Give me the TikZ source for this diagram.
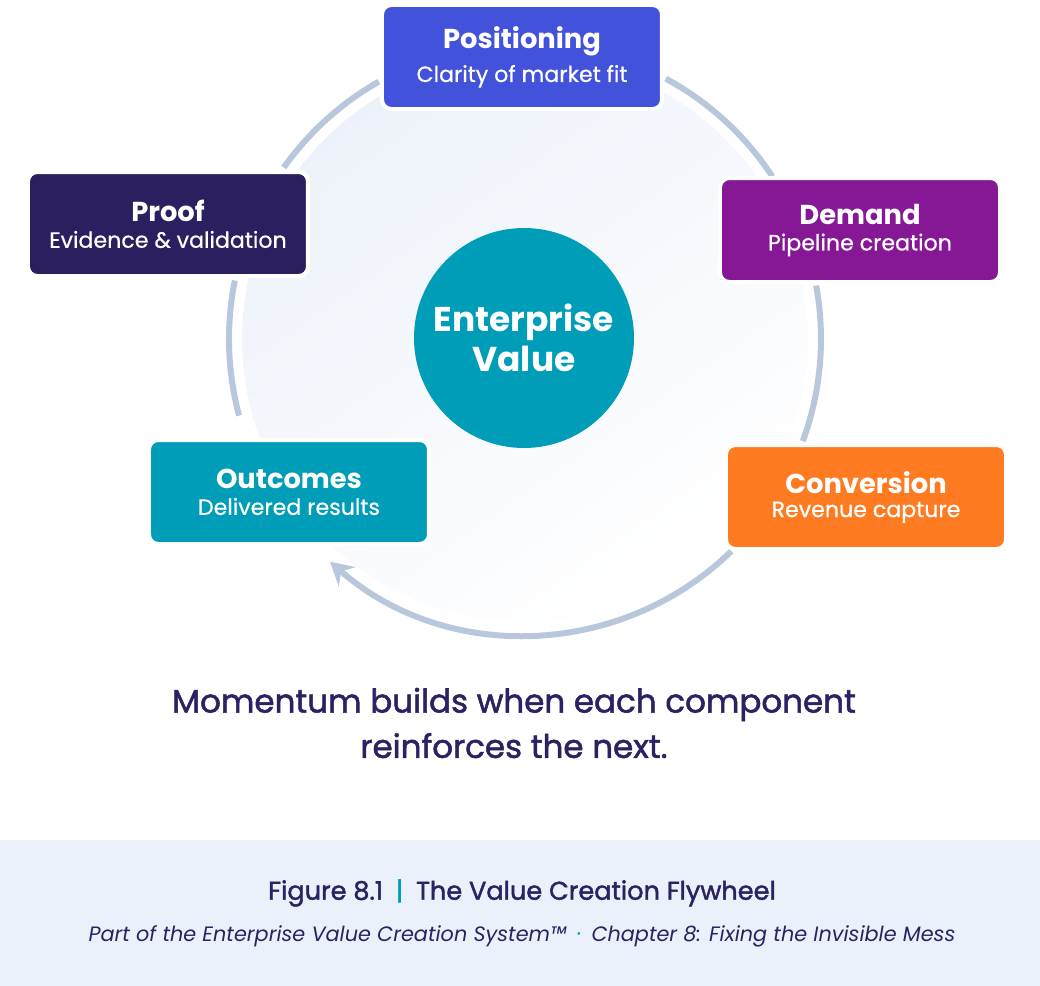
\documentclass[tikz,border=0pt]{standalone}
\usepackage{fontspec}
\setmainfont{Poppins}
\newfontfamily\mediumfont[FakeBold=0.6]{Poppins}
\newfontfamily\semifont[FakeBold=1.6]{Poppins}
\usetikzlibrary{arrows.meta,positioning}

\definecolor{posblue}{HTML}{4252DB}
\definecolor{proofnavy}{HTML}{2B1F5F}
\definecolor{demandpurple}{HTML}{861896}
\definecolor{convorange}{HTML}{FF7B22}
\definecolor{outteal}{HTML}{009DB9}
\definecolor{ringgrey}{HTML}{B9C7DD}
\definecolor{textnavy}{HTML}{2A2262}
\definecolor{footbg}{HTML}{EBF1FA}
\definecolor{diskblue}{HTML}{EDF2FA}

\newcommand{\stagetext}[2]{{\fontsize{20.5}{24}\selectfont\bfseries #1}\\[6pt]{\fontsize{16.6}{19}\selectfont\mediumfont #2}}

\tikzset{
  stagebox/.style={rectangle, rounded corners=7pt, draw=white, line width=3pt,
    minimum width=210pt, minimum height=78pt, inner sep=0pt, text=white, align=center},
  ring/.style={draw=ringgrey, line width=4.5pt},
}

\begin{document}
\begin{tikzpicture}[x=0.75pt,y=0.75pt]
  \useasboundingbox (-525,339) rectangle (515,-647);

  % soft disc behind the wheel
  \shade[top color=diskblue, bottom color=white, shading angle=35] (0,0) circle[radius=283];

  % the wheel, in pieces between the stages
  \draw[ring] (144.6:296) arc[start angle=144.6, end angle=119.6, radius=296];
  \draw[ring] (61.6:296) arc[start angle=61.6, end angle=33.3, radius=296];
  \draw[ring] (10.4:296) arc[start angle=10.4, end angle=-20.2, radius=296];
  \draw[ring] (168.6:296) arc[start angle=168.6, end angle=195, radius=296];
  \draw[ring,-{Stealth[length=17pt,width=19pt,inset=6pt]}] (-45.8:296) arc[start angle=-45.8, end angle=-131.2, radius=296];

  % stages
  \node[stagebox, fill=posblue] (positioning) at (-3,282) {\stagetext{Positioning}{Clarity of market fit}};
  \node[stagebox, fill=demandpurple] (demand) at (335,109) {\stagetext{Demand}{Pipeline creation}};
  \node[stagebox, fill=convorange] (conversion) at (341,-158) {\stagetext{Conversion}{Revenue capture}};
  \node[stagebox, fill=outteal] (outcomes) at (-236,-153) {\stagetext{Outcomes}{Delivered results}};
  \node[stagebox, fill=proofnavy] (proof) at (-357,115) {\stagetext{Proof}{Evidence \& validation}};

  % hub
  \node[circle, fill=outteal, minimum size=165pt, inner sep=0pt, text=white, align=center,
    font=\fontsize{25.8}{30}\selectfont\bfseries] (hub) at (-1,1) {Enterprise\\Value};

  % message
  \node[text=textnavy, align=center, font=\fontsize{24.4}{34}\selectfont\semifont] (message) at (-11,-384)
    {Momentum builds when each component\\reinforces the next.};

  % caption band
  \fill[footbg] (-525,-501) rectangle (515,-647);
  \node[text=textnavy, font=\fontsize{19.2}{22}\selectfont\semifont] (figtitle) at (-3,-554)
    {Figure 8.1\enspace{\color{outteal}|}\enspace The Value Creation Flywheel};
  \node[text=textnavy, font=\fontsize{15.6}{18}\selectfont\itshape] (figsub) at (-3,-597)
    {Part of the Enterprise Value Creation System™\enspace\raisebox{0.3ex}{\color{outteal}\fontsize{8}{8}\selectfont\textbullet}\enspace Chapter 8: Fixing the Invisible Mess};
\end{tikzpicture}
\end{document}
